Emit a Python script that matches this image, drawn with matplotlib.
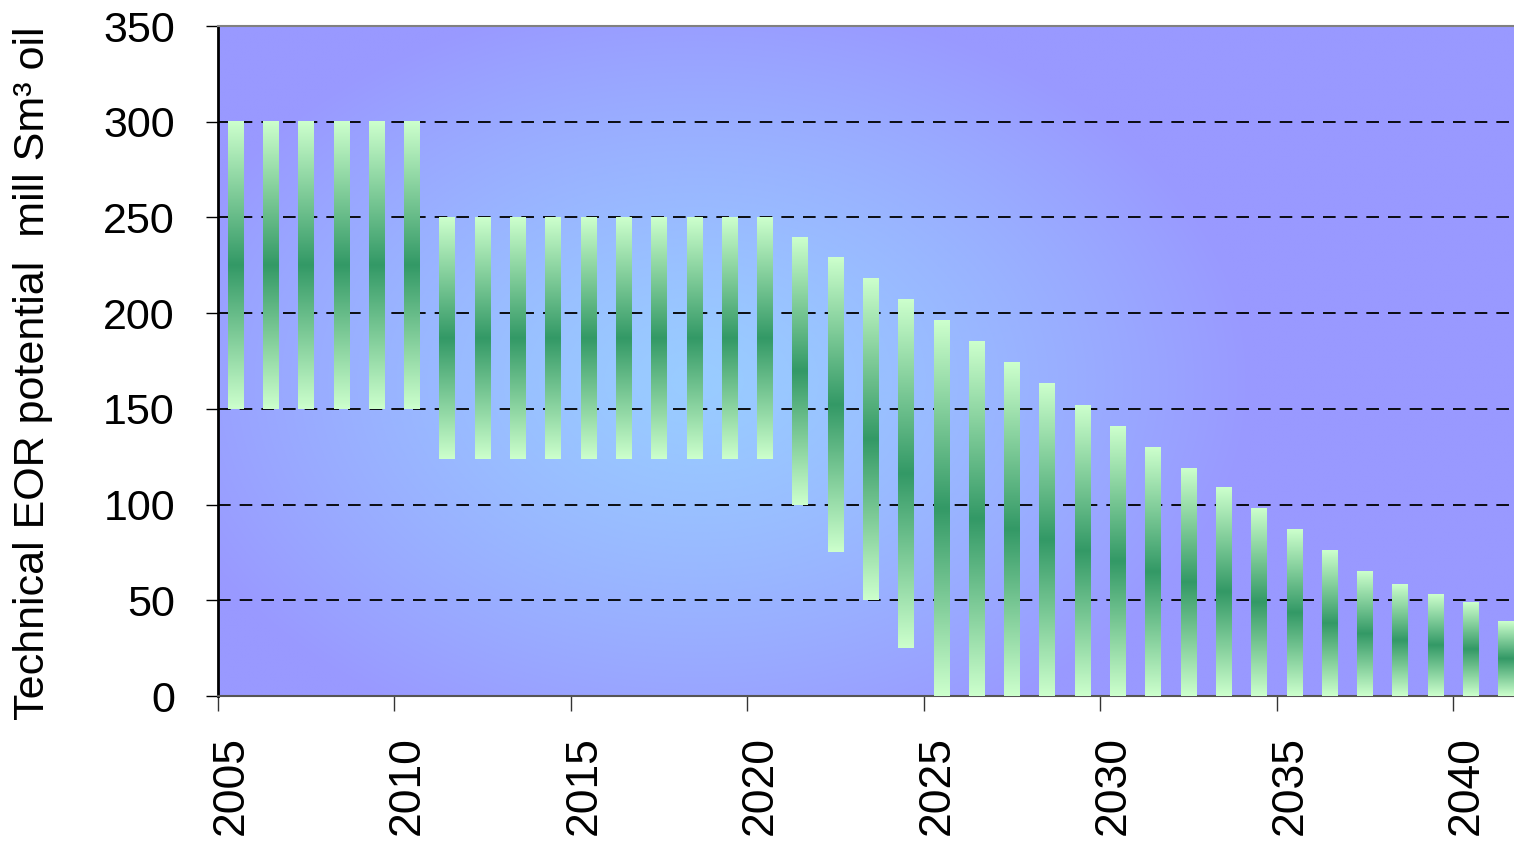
import numpy as np
import matplotlib.pyplot as plt
import matplotlib.transforms as mtransforms
from matplotlib.colors import to_rgb

# year of each range bar and its low / high value (mill Sm3 oil)
years = np.arange(2005, 2042)
lows = [150, 150, 150, 150, 150, 150,
        124, 124, 124, 124, 124, 124, 124, 124, 124, 124,
        100, 75, 50, 25,
        0, 0, 0, 0, 0, 0, 0, 0, 0, 0, 0, 0, 0, 0, 0, 0, 0]
highs = [300, 300, 300, 300, 300, 300,
         250, 250, 250, 250, 250, 250, 250, 250, 250, 250,
         240, 229, 218, 207, 196, 185, 174, 163, 152, 141, 130,
         119, 109, 98, 87, 76, 65, 58, 53, 49, 39]
tick_years = [2005, 2010, 2015, 2020, 2025, 2030, 2035, 2040]
y_ticks = [0, 50, 100, 150, 200, 250, 300, 350]

font = 'Liberation Sans'
light = np.array(to_rgb('#CCFFCC'))
dark = np.array(to_rgb('#339966'))
bg_mid = np.array(to_rgb('#99CCFF'))
bg_edge = np.array(to_rgb('#9999FF'))

fig = plt.figure(figsize=(15.14, 8.48), dpi=100)
ax = fig.add_axes([218 / 1514, 152 / 848, 1296 / 1514, 670 / 848])

# radial background gradient
gx, gy = np.meshgrid(np.linspace(0, 1, 400), np.linspace(0, 1, 300))
d = np.sqrt(((gx - 0.37) / 0.43) ** 2 + ((gy - 0.47) / 0.58) ** 2)
d = np.clip(d, 0, 1) ** 1.3
bg = bg_mid[None, None, :] * (1 - d[..., None]) + bg_edge[None, None, :] * d[..., None]
ax.imshow(bg, extent=[0, 1, 0, 1], transform=ax.transAxes, origin='lower',
          aspect='auto', zorder=0, interpolation='bilinear')

# gradient for the bars: light at the ends, dark in the middle
s = np.linspace(0, 1, 200)
t = 1 - np.abs(2 * s - 1)
bar_img = light[None, :] * (1 - t[:, None]) + dark[None, :] * t[:, None]
bar_img = bar_img[:, None, :]

width = 0.45
for yr, lo, hi in zip(years, lows, highs):
    xc = yr + 0.5
    ax.imshow(bar_img, extent=[xc - width / 2, xc + width / 2, lo, hi],
              origin='lower', aspect='auto', zorder=3, interpolation='bilinear')

for yv in y_ticks[1:-1]:
    ax.axhline(yv, color='black', lw=1.3, ls=(0, (7, 5)), zorder=2)

ax.set_xlim(2005, 2041.72)
ax.set_ylim(0, 350)
ax.set_xticks(tick_years)
ax.set_xticklabels([str(y) for y in tick_years], rotation=90,
                   fontsize=32, family=font)
ax.set_yticks(y_ticks)
ax.set_yticklabels([str(v) for v in y_ticks], fontsize=31, family=font)
ax.tick_params(axis='x', length=11, width=1, pad=18, color='#333333')
ax.tick_params(axis='y', length=9, width=1, pad=22)

# labels sit a little right of their tick, as in the original
shift = mtransforms.ScaledTranslation(0.13, 0, fig.dpi_scale_trans)
for lab in ax.get_xticklabels():
    lab.set_transform(lab.get_transform() + shift)

ax.spines['left'].set_color('black')
ax.spines['left'].set_linewidth(2)
ax.spines['bottom'].set_color('#555555')
ax.spines['bottom'].set_linewidth(1.5)
ax.spines['top'].set_color('#808080')
ax.spines['top'].set_linewidth(1.5)
ax.spines['right'].set_visible(False)

fig.text(33 / 1514, 1 - 373 / 848, 'Technical EOR potential  mill Sm\u00b3 oil',
         rotation=90, ha='center', va='center', fontsize=31,
         family=['Liberation Sans Narrow', 'Liberation Sans'])

fig.savefig('out.png', dpi=100)
